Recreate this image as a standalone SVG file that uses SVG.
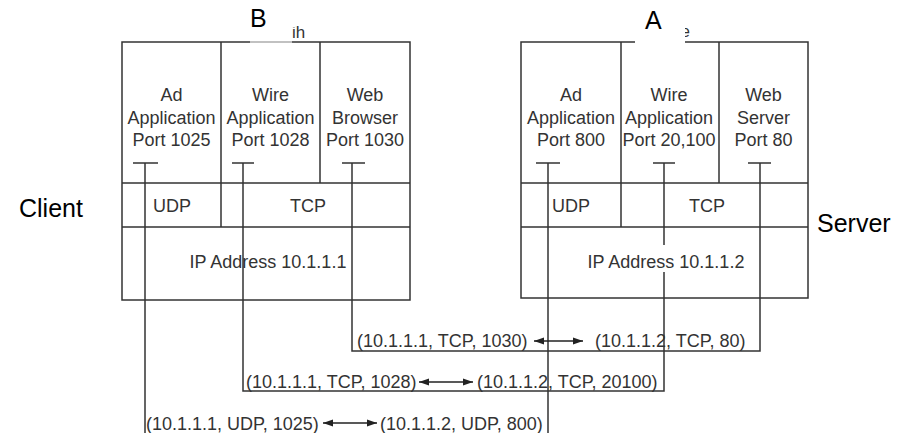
<svg xmlns="http://www.w3.org/2000/svg" width="908" height="433" viewBox="0 0 908 433">
<style>
.ln{fill:none;stroke:#333;stroke-width:1.5}
.t{font-family:"Liberation Sans",Arial,sans-serif;font-size:18px;fill:#333}
.c{text-anchor:middle}
.big{font-family:"Liberation Sans",Arial,sans-serif;font-size:25px;fill:#000}
.ar{fill:none;stroke:#222;stroke-width:1.5;marker-start:url(#ah);marker-end:url(#ah)}
</style>
<defs>
<marker id="ah" markerUnits="userSpaceOnUse" markerWidth="11" markerHeight="8" refX="10" refY="4" orient="auto-start-reverse">
<path d="M0,0.5 L10,4 L0,7.5 z" fill="#222"/>
</marker>
</defs>
<rect width="908" height="433" fill="#fff"/>

<g id="client">
<rect class="ln" x="122" y="42" width="288" height="258"/>
<path class="ln" d="M221,42 V227 M320,42 V183 M122,183 H410 M122,227 H410"/>
<path class="ln" d="M133,163 H158 M232,163 H254 M342,163 H365"/>
<text class="t c" x="171.5" y="101">Ad</text>
<text class="t c" x="171.5" y="123.5">Application</text>
<text class="t c" x="171.5" y="146">Port 1025</text>
<text class="t c" x="270.5" y="101">Wire</text>
<text class="t c" x="270.5" y="123.5">Application</text>
<text class="t c" x="270.5" y="146">Port 1028</text>
<text class="t c" x="365" y="101">Web</text>
<text class="t c" x="365" y="123.5">Browser</text>
<text class="t c" x="365" y="146">Port 1030</text>
<text class="t" x="153" y="212">UDP</text>
<text class="t c" x="308" y="212">TCP</text>
<text class="t c" x="268" y="268">IP Address 10.1.1.1</text>
</g>

<g id="server">
<rect class="ln" x="521" y="42" width="287" height="256"/>
<path class="ln" d="M621,42 V227 M719,42 V183 M521,183 H808 M521,227 H808"/>
<path class="ln" d="M536,163 H560 M653,163 H675 M748,163 H771"/>
<text class="t c" x="571" y="101">Ad</text>
<text class="t c" x="571" y="123.5">Application</text>
<text class="t c" x="571" y="146">Port 800</text>
<text class="t c" x="669" y="101">Wire</text>
<text class="t c" x="669" y="123.5">Application</text>
<text class="t c" x="669" y="146">Port 20,100</text>
<text class="t c" x="763.5" y="101">Web</text>
<text class="t c" x="763.5" y="123.5">Server</text>
<text class="t c" x="763.5" y="146">Port 80</text>
<text class="t" x="552" y="212">UDP</text>
<text class="t c" x="707" y="212">TCP</text>
<text class="t c" x="666" y="268">IP Address 10.1.1.2</text>
</g>

<g id="connectors">
<path class="ln" d="M352,163 V351 H760 V163"/>
<path class="ln" d="M243,163 V391 H664 V272 M664,245 V163"/>
<path class="ln" d="M145,163 V434 M548,163 V434"/>
<line class="ar" x1="534" y1="341" x2="583" y2="341"/>
<line class="ar" x1="419" y1="382" x2="473" y2="382"/>
<line class="ar" x1="323" y1="423" x2="377" y2="423"/>
<text class="t" x="357" y="347">(10.1.1.1, TCP, 1030)</text>
<text class="t" x="595" y="347">(10.1.1.2, TCP, 80)</text>
<text class="t" x="246" y="388">(10.1.1.1, TCP, 1028)</text>
<text class="t" x="477" y="388">(10.1.1.2, TCP, 20100)</text>
<text class="t" x="146" y="430">(10.1.1.1, UDP, 1025)</text>
<text class="t" x="380" y="430">(10.1.1.2, UDP, 800)</text>
</g>

<g id="labels">
<text class="t" x="292" y="38" style="font-size:17px">ih</text>
<rect x="286" y="18" width="9" height="9" fill="#fff"/>
<rect x="250" y="39" width="42" height="5" fill="#fff" opacity="0.6"/>
<text class="t" x="681" y="37" style="font-size:16px">e</text>
<rect x="635" y="20" width="50" height="24" fill="#fff"/>
<text class="big" x="250" y="27">B</text>
<text class="big" x="645" y="29">A</text>
<text class="big" x="19" y="217">Client</text>
<text class="big" x="817" y="232">Server</text>
</g>
</svg>
